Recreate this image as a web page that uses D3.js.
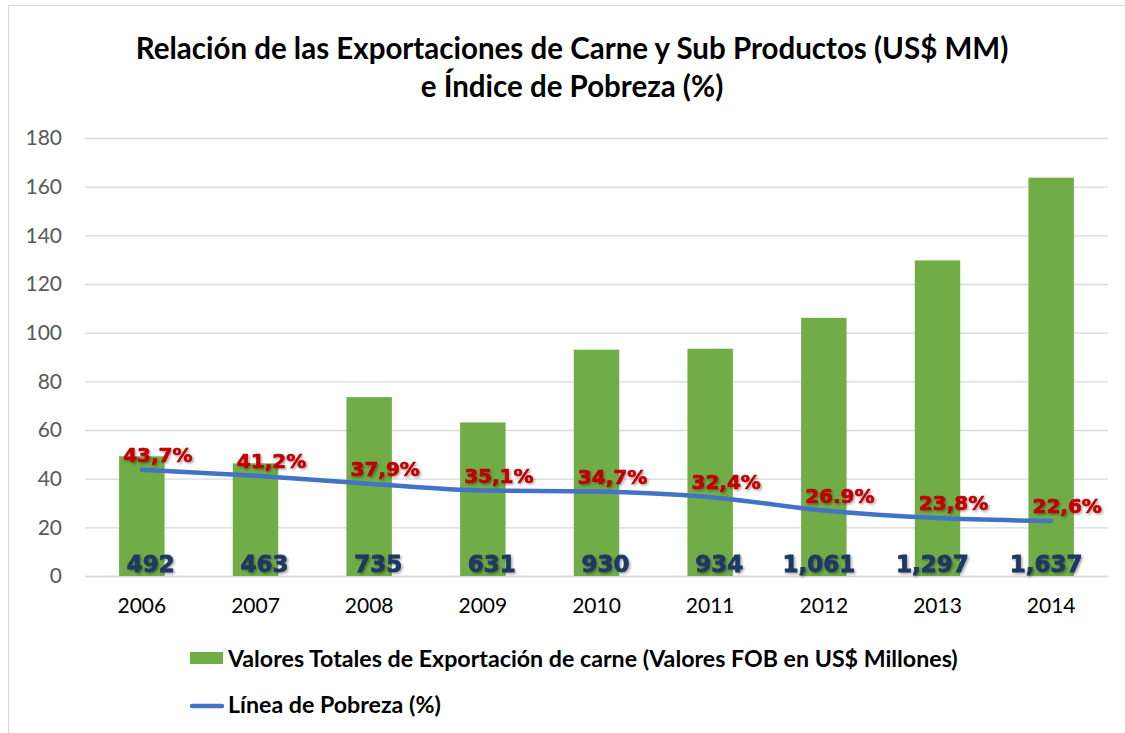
<!DOCTYPE html>
<html>
<head>
<meta charset="utf-8">
<script src="https://cdn.jsdelivr.net/npm/d3@7"></script>
<style>
  body { margin: 0; background: #fff; }
  svg { display: block; }
</style>
</head>
<body>
<svg id="chart"></svg>
<script>
// data
var years = ["2006", "2007", "2008", "2009", "2010", "2011", "2012", "2013", "2014"];
var exports = [492, 463, 735, 631, 930, 934, 1061, 1297, 1637];   // US$ millones
var exportLabels = ["492", "463", "735", "631", "930", "934", "1,061", "1,297", "1,637"];
var poverty = [43.7, 41.2, 37.9, 35.1, 34.7, 32.4, 26.9, 23.8, 22.6];
var povertyLabels = ["43,7%", "41,2%", "37,9%", "35,1%", "34,7%", "32,4%", "26.9%", "23,8%", "22,6%"];
var yTicks = [0, 20, 40, 60, 80, 100, 120, 140, 160, 180];

var width = 1125, height = 733;
var margin = {top: 138, right: 17, bottom: 157, left: 85};
var sans = "Lato, 'Open Sans', sans-serif";
var heavy = "'DejaVu Sans', Verdana, sans-serif";

var svg = d3.select("#chart")
  .attr("width", width)
  .attr("height", height);

svg.append("rect")
  .attr("x", 8.5).attr("y", 5.5)
  .attr("width", width + 10).attr("height", height + 10)
  .attr("fill", "#fff").attr("stroke", "#d9d9d9");

var defs = svg.append("defs");
var f = defs.append("filter").attr("id", "shadow")
  .attr("x", "-20%").attr("y", "-20%").attr("width", "140%").attr("height", "160%");
f.append("feDropShadow").attr("dx", 1.5).attr("dy", 1.5).attr("stdDeviation", 1)
  .attr("flood-color", "#000").attr("flood-opacity", 0.35);

var x = d3.scaleBand()
  .domain(years)
  .range([margin.left, width - margin.right])
  .paddingInner(0.6)
  .paddingOuter(0.3);

var y = d3.scaleLinear()
  .domain([0, 180])
  .range([height - margin.bottom, margin.top]);

// title
var title = svg.append("text")
  .attr("text-anchor", "middle")
  .attr("font-family", sans)
  .attr("font-weight", "bold")
  .attr("font-size", 29.5)
  .attr("fill", "#000");
title.append("tspan").attr("x", 572).attr("y", 59)
  .text("Relación de las Exportaciones de Carne y Sub Productos (US$ MM)");
title.append("tspan").attr("x", 572).attr("y", 97)
  .text("e Índice de Pobreza (%)");

// grid + y axis
var yAxis = svg.append("g")
  .attr("transform", `translate(${margin.left},0)`)
  .call(d3.axisLeft(y).tickValues(yTicks)
    .tickSize(-(width - margin.left - margin.right))
    .tickPadding(23));
yAxis.select(".domain").remove();
yAxis.selectAll(".tick line").attr("stroke", "#d9d9d9").attr("stroke-width", 1.3);
yAxis.selectAll(".tick text")
  .attr("font-family", sans)
  .attr("font-size", 21)
  .attr("fill", "#595959");

// x axis
var xAxis = svg.append("g")
  .attr("transform", `translate(0,${height - margin.bottom})`)
  .call(d3.axisBottom(x).tickSize(0).tickPadding(22));
xAxis.select(".domain").attr("stroke", "#d9d9d9").attr("stroke-width", 1.3);
xAxis.selectAll(".tick text")
  .attr("font-family", sans)
  .attr("font-size", 21)
  .attr("fill", "#000");

// bars (shown in tens of millions on the 0-180 axis)
svg.append("g").selectAll("rect")
  .data(years)
  .join("rect")
  .attr("x", d => x(d))
  .attr("width", x.bandwidth())
  .attr("y", (d, i) => y(exports[i] / 10))
  .attr("height", (d, i) => y(0) - y(exports[i] / 10))
  .attr("fill", "#70ad47");

// poverty line
var line = d3.line()
  .x((d, i) => x(years[i]) + x.bandwidth() / 2)
  .y(d => y(d))
  .curve(d3.curveMonotoneX);

svg.append("path")
  .datum(poverty)
  .attr("d", line)
  .attr("fill", "none")
  .attr("stroke", "#4472c4")
  .attr("stroke-width", 4.5)
  .attr("stroke-linecap", "round");

// export value labels
svg.append("g").selectAll("text")
  .data(exportLabels)
  .join("text")
  .attr("x", (d, i) => x(years[i]) + x.bandwidth() / 2 + (d.length > 3 ? -5 : 9))
  .attr("y", (d, i) => y(0) - 4)
  .attr("text-anchor", "middle")
  .attr("font-family", heavy)
  .attr("font-weight", "bold")
  .attr("font-size", 23)
  .attr("fill", "#1f3864")
  .attr("stroke", "#1f3864")
  .attr("stroke-width", 0.8)
  .attr("filter", "url(#shadow)")
  .text(d => d);

// poverty labels
svg.append("g").selectAll("text")
  .data(povertyLabels)
  .join("text")
  .attr("x", (d, i) => x(years[i]) + x.bandwidth() / 2 + 16)
  .attr("y", (d, i) => y(poverty[i]) - 8)
  .attr("text-anchor", "middle")
  .attr("font-family", heavy)
  .attr("font-weight", "bold")
  .attr("font-size", 20)
  .attr("fill", "#c00000")
  .attr("stroke", "#c00000")
  .attr("stroke-width", 0.7)
  .attr("filter", "url(#shadow)")
  .text(d => d);

// legend
var legend = svg.append("g")
  .attr("font-family", sans)
  .attr("font-weight", "bold")
  .attr("font-size", 23.2)
  .attr("fill", "#000");

legend.append("rect")
  .attr("x", 190).attr("y", 652).attr("width", 33).attr("height", 12)
  .attr("fill", "#70ad47");
legend.append("text").attr("x", 228).attr("y", 667)
  .text("Valores Totales de Exportación de carne (Valores FOB en US$ Millones)");

legend.append("line")
  .attr("x1", 192).attr("x2", 222).attr("y1", 706).attr("y2", 706)
  .attr("stroke", "#4472c4").attr("stroke-width", 4.5).attr("stroke-linecap", "round");
legend.append("text").attr("x", 228).attr("y", 713)
  .text("Línea de Pobreza (%)");
</script>
</body>
</html>
